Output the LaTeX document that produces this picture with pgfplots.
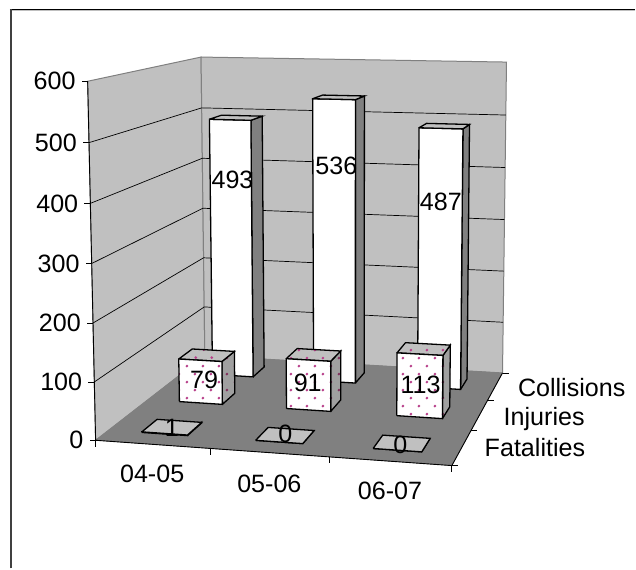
\documentclass[border=0pt]{standalone}
\usepackage{fontspec}
\setmainfont{Liberation Sans}
\usepackage{pgfplots}
\usetikzlibrary{patterns}
\pgfplotsset{compat=1.18}

% staggered dots of the Injuries series, 8 px apart
\pgfdeclarepatternformonly{xldots}{\pgfqpoint{0bp}{0bp}}{\pgfqpoint{16bp}{16bp}}{\pgfqpoint{16bp}{16bp}}{
  \pgfpathcircle{\pgfqpoint{4bp}{4bp}}{1.5bp}
  \pgfpathcircle{\pgfqpoint{12bp}{12bp}}{1.5bp}
  \pgfusepath{fill}
}

\definecolor{wall}{HTML}{C0C0C0}
\definecolor{floorc}{HTML}{808080}
\definecolor{dotc}{HTML}{B8408A}
\definecolor{dotd}{HTML}{80305C}

% polygon on the chart box, vertices as u v w (category, depth, value/600)
\newcommand{\face}[2]{\addplot[#1] table[row sep=\\,
    x expr={px(\thisrow{u},\thisrow{v},\thisrow{w})},
    y expr={py(\thisrow{u},\thisrow{v},\thisrow{w})}] {u v w\\ #2};}

% tick: from a point on the box, dx dy pixels away
\newcommand{\tickmark}[5]{\addplot[black, line width=0.8bp] table[row sep=\\,
    x expr={px(#1,#2,#3)+\thisrow{t}*(#4)},
    y expr={py(#1,#2,#3)+\thisrow{t}*(#5)}] {t\\ 0\\ 1\\};}

% one face of a column: category centre, depth centre, value, style, vertices
\newcommand{\colface}[5]{\addplot[#4] table[row sep=\\,
    x expr={px(#1+\thisrow{s}*0.0675,#2+\thisrow{d}*0.065,\thisrow{t}*#3/600)},
    y expr={py(#1+\thisrow{s}*0.0675,#2+\thisrow{d}*0.065,\thisrow{t}*#3/600)}] {s d t\\ #5};}
\newcommand{\colright}[4]{\colface{#1}{#2}{#3}{#4}{1 -1 0\\ 1 1 0\\ 1 1 1\\ 1 -1 1\\ 1 -1 0\\}}
\newcommand{\coltop}[4]{\colface{#1}{#2}{#3}{#4}{-1 -1 1\\ 1 -1 1\\ 1 1 1\\ -1 1 1\\ -1 -1 1\\}}
\newcommand{\colfront}[4]{\colface{#1}{#2}{#3}{#4}{-1 -1 0\\ 1 -1 0\\ 1 -1 1\\ -1 -1 1\\ -1 -1 0\\}}
\tikzset{outl/.style={draw=black, line width=1.3bp}}

% plain column (Collisions, Fatalities)
\newcommand{\plaincol}[3]{%
  \colright{#1}{#2}{#3}{fill=floorc, outl}%
  \colfront{#1}{#2}{#3}{fill=white, outl}%
  \coltop{#1}{#2}{#3}{fill=wall, outl}%
}
% dotted column (Injuries)
\newcommand{\dotcol}[3]{%
  \colright{#1}{#2}{#3}{fill=floorc!75!white, draw=none}%
  \colright{#1}{#2}{#3}{pattern=xldots, pattern color=dotd, outl}%
  \coltop{#1}{#2}{#3}{fill=wall, draw=none}%
  \coltop{#1}{#2}{#3}{pattern=xldots, pattern color=dotc, outl}%
  \colfront{#1}{#2}{#3}{fill=white, draw=none}%
  \colfront{#1}{#2}{#3}{pattern=xldots, pattern color=dotc, outl}%
}

\begin{document}
\begin{tikzpicture}[
    every node/.style={font=\fontsize{25.2}{30}\selectfont, inner sep=0pt, text=black},
    declare function={
      den(\a,\b,\c)=1-0.0481*\a+0.2048*\b-0.03*\c;
      px(\a,\b,\c)=(95.7+334.8*\a+151.3*\b-10.6*\c)/den(\a,\b,\c);
      py(\a,\b,\c)=(440.7+2.9*\a-11.8*\b-361.8*\c)/den(\a,\b,\c);
    }]
\begin{axis}[
    scale only axis, width=636bp, height=569bp,
    xmin=0, xmax=636, ymin=0, ymax=569, y dir=reverse,
    axis lines=none, clip=false,
    every axis plot/.append style={no markers, line join=miter, solid},
    every node near coord/.append style={anchor=base, font=\fontsize{25.2}{30}\selectfont},
  ]
  % keeps the page as large as the whole chart
  \addplot[draw=none] coordinates {(0,0) (636,569)};

  % chart frame
  \addplot[black!25, line width=1bp] coordinates {(12,10.6) (636,10.6)};
  \addplot[black, line width=1.2bp] coordinates {(10,9.5) (636,9.5)};
  \addplot[black!75, line width=2bp] coordinates {(11,569) (11,9)};

  % walls and floor
  \face{fill=wall, draw=floorc, line width=1bp}{0 0 0\\ 0 1 0\\ 0 1 1\\ 0 0 1\\ 0 0 0\\}
  \face{fill=wall, draw=floorc, line width=1bp}{0 1 0\\ 1 1 0\\ 1 1 1\\ 0 1 1\\ 0 1 0\\}
  \pgfplotsinvokeforeach{0.16667,0.33333,0.5,0.66667,0.83333}{
    \face{black, line width=0.7bp}{0 0 #1\\ 0 1 #1\\ 1 1 #1\\}
  }
  \face{fill=floorc, draw=floorc}{0 0 0\\ 1 0 0\\ 1 1 0\\ 0 1 0\\ 0 0 0\\}
  \face{black, line width=0.9bp}{0 0 1\\ 0 0 0\\ 1 0 0\\ 1 1 0\\}

  % ticks
  \pgfplotsinvokeforeach{0,0.16667,0.33333,0.5,0.66667,0.83333,1}{\tickmark{0}{0}{#1}{-6}{0}}
  \pgfplotsinvokeforeach{0,0.33333,0.66667,1}{\tickmark{#1}{0}{0}{0}{6.5}}
  \pgfplotsinvokeforeach{0,0.33333,0.66667,1}{\tickmark{1}{#1}{0}{6.5}{0}}

  % Collisions
  \plaincol{0.16667}{0.83333}{493}
  \plaincol{0.5}{0.83333}{536}
  \plaincol{0.83333}{0.83333}{487}
  % Injuries
  \dotcol{0.16667}{0.5}{79}
  \dotcol{0.5}{0.5}{91}
  \dotcol{0.83333}{0.5}{113}
  % Fatalities
  \plaincol{0.16667}{0.16667}{1}
  \plaincol{0.5}{0.16667}{0}
  \plaincol{0.83333}{0.16667}{0}

  % value axis numbers
  \addplot[draw=none, nodes near coords, point meta=explicit symbolic,
    every node near coord/.append style={anchor=base east}]
    table[row sep=\\, meta=val,
      x expr={px(0,0,\thisrow{val}/600)-12},
      y expr={py(0,0,\thisrow{val}/600)+8.7}] {val\\ 0\\ 100\\ 200\\ 300\\ 400\\ 500\\ 600\\};

  % data labels
  \addplot[draw=none, nodes near coords, point meta=explicit symbolic]
    table[row sep=\\, meta=lab] {x y lab\\ 232.7 189 493\\ 336.7 175 536\\ 441.3 210.7 487\\ 204.3 389.3 79\\ 308 392 91\\ 421 394 113\\ 172 436.7 1\\ 285.7 443.3 0\\ 400.7 454 0\\};

  % category and series names
  \node[anchor=base west] at (axis cs:120,482.7) {04-05};
  \node[anchor=base west] at (axis cs:237.3,493) {05-06};
  \node[anchor=base west] at (axis cs:358,500) {06-07};
  \node[anchor=base west] at (axis cs:518.3,396.7) {Collisions};
  \node[anchor=base west] at (axis cs:504,426) {Injuries};
  \node[anchor=base west] at (axis cs:485,457.3) {Fatalities};
\end{axis}
\end{tikzpicture}
\end{document}
